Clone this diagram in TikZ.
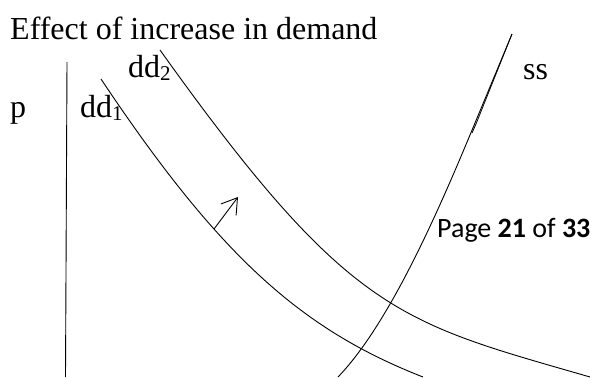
\documentclass[tikz,border=0pt]{standalone}
\usepackage{fontspec}
\setmainfont{Liberation Serif}
\newfontfamily\calibri{Carlito}
\usetikzlibrary{arrows.meta}
\tikzset{
  curve/.style={line width=0.9pt, black},
  lbl/.style={anchor=base west, inner sep=0pt, font=\fontsize{32}{38}\selectfont},
}
\newcommand{\sub}[1]{\raisebox{-3.5pt}{\fontsize{21}{21}\selectfont #1}}
\begin{document}
\begin{tikzpicture}[x=1pt,y=-1pt]
\useasboundingbox (0,0) rectangle (598,378);
% title
\node[lbl] (title) at (10,39) {Effect of increase in demand};
% axis
\draw[curve] (67,62) -- (65.5,377);
% labels
\node[lbl] (p) at (10,117) {p};
\node[lbl] (dd1) at (80,117) {dd\sub{1}};
\node[lbl] (dd2) at (128,77) {dd\sub{2}};
\node[lbl] (ss) at (523,79) {ss};
\node[anchor=base west, inner sep=0pt, font=\calibri\fontsize{28}{32}\selectfont] (page) at (437,237) {Page \textbf{21} of \textbf{33}};
% demand curves
\draw[curve] (101,79) .. controls (221,259) and (303,330) .. (423,377);
\draw[curve] (160,50) .. controls (350,316) and (400,322) .. (590,377);
% supply curve
\draw[curve] (338,377) .. controls (388,325) and (435,219) .. (470,135) -- (512,34);
\draw[line width=0.8pt] (512,34) -- (476,124) -- (472,133);
% shift arrow
\draw[line width=0.9pt, -{Straight Barb[length=15pt,width=19pt]}] (214,229) -- (238,197);
\end{tikzpicture}
\end{document}
